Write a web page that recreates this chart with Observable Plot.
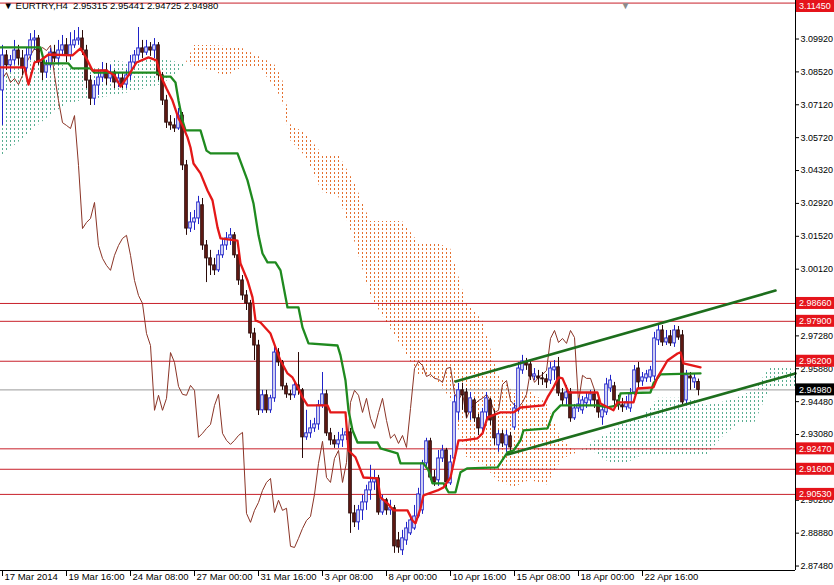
<!DOCTYPE html>
<html><head><meta charset="utf-8">
<script src="https://cdn.jsdelivr.net/npm/d3@7"></script>
<script src="https://cdn.jsdelivr.net/npm/@observablehq/plot@0.6"></script>
<style>body{margin:0;background:#fff;}svg{display:block}</style>
</head><body><div id="chart"></div>
<script>
const open=[3.0773,3.0922,3.0880,3.0901,3.0943,3.0909,3.0867,3.0922,3.0986,3.0994,
3.0892,3.0849,3.0880,3.0934,3.0909,3.0943,3.0965,3.0922,3.0965,3.0986,
3.0994,3.0943,3.0815,3.0738,3.0794,3.0828,3.0858,3.0824,3.0849,3.0807,
3.0824,3.0798,3.0837,3.0892,3.0922,3.0952,3.0934,3.0956,3.0943,3.0965,
3.0837,3.0730,3.0636,3.0624,3.0611,3.0666,3.0454,3.0185,3.0211,3.0228,
3.0284,3.0113,3.0058,3.0028,3.0007,3.0071,3.0113,3.0143,3.0156,3.0071,
2.9964,2.9900,2.9866,2.9738,2.9687,2.9411,2.9475,2.9411,2.9462,2.9657,
2.9615,2.9513,2.9479,2.9475,2.9517,2.9496,2.9296,2.9313,2.9334,2.9351,
2.9432,2.9479,2.9313,2.9283,2.9266,2.9283,2.9304,2.9317,2.8972,2.8934,
2.8985,2.9019,2.9070,2.9104,2.9121,2.8976,2.9028,2.8985,2.8994,2.8857,
2.8815,2.8857,2.8887,2.8908,2.8959,2.8985,2.9185,2.9279,2.9125,2.9113,
2.9206,2.9240,2.9100,2.9206,2.9402,2.9496,2.9487,2.9402,2.9453,2.9377,
2.9334,2.9402,2.9453,2.9389,2.9262,2.9309,2.9262,2.9300,2.9338,2.9411,
2.9581,2.9615,2.9606,2.9555,2.9555,2.9547,2.9543,2.9538,2.9581,2.9594,
2.9483,2.9462,2.9487,2.9377,2.9419,2.9411,2.9441,2.9453,2.9479,2.9453,
2.9381,2.9402,2.9504,2.9513,2.9453,2.9432,2.9424,2.9419,2.9487,2.9589,
2.9534,2.9547,2.9551,2.9555,2.9709,2.9751,2.9700,2.9726,2.9696,2.9751,
2.9730,2.9453,2.9555,2.9530,2.95315];
const high=[3.0965,3.0943,3.0922,3.0986,3.0965,3.0943,3.0952,3.1015,3.1028,3.1007,
3.0909,3.0901,3.0952,3.0965,3.0986,3.1007,3.0994,3.1019,3.1028,3.1041,
3.1028,3.0965,3.0837,3.0815,3.0858,3.0892,3.0888,3.0880,3.0858,3.0849,
3.0849,3.0858,3.0922,3.0943,3.1041,3.0986,3.0986,3.0977,3.0994,3.0977,
3.0849,3.0752,3.0666,3.0653,3.0696,3.0679,3.0475,3.0253,3.0262,3.0322,
3.0313,3.0134,3.0092,3.0058,3.0092,3.0143,3.0168,3.0185,3.0168,3.0083,
2.9985,2.9921,2.9879,2.9760,2.9709,2.9496,2.9496,2.9475,2.9687,2.9674,
2.9623,2.9526,2.9496,2.9538,2.9657,2.9504,2.9411,2.9368,2.9377,2.9453,
2.9572,2.9496,2.9334,2.9304,2.9317,2.9334,2.9347,2.9334,2.9006,2.9006,
2.9049,2.9092,2.9177,2.9155,2.9134,2.9049,2.9036,2.9028,2.9006,2.8891,
2.8900,2.8934,2.8964,2.9006,2.9079,2.9198,2.9292,2.9292,2.9155,2.9240,
2.9262,2.9249,2.9219,2.9475,2.9526,2.9526,2.9504,2.9487,2.9462,2.9394,
2.9419,2.9487,2.9462,2.9411,2.9326,2.9326,2.9326,2.9317,2.9441,2.9615,
2.9645,2.9632,2.9623,2.9589,2.9581,2.9572,2.9564,2.9615,2.9623,2.9636,
2.9504,2.9517,2.9504,2.9436,2.9462,2.9470,2.9483,2.9496,2.9496,2.9470,
2.9432,2.9547,2.9560,2.9530,2.9475,2.9462,2.9470,2.9504,2.9602,2.9615,
2.9572,2.9581,2.9598,2.9743,2.9781,2.9772,2.9751,2.9751,2.9772,2.9768,
2.9751,2.9581,2.9572,2.9564,2.95441];
const low=[3.0624,3.0858,3.0849,3.0880,3.0880,3.0837,3.0849,3.0901,3.0943,3.0880,
3.0815,3.0824,3.0867,3.0892,3.0880,3.0922,3.0892,3.0901,3.0952,3.0965,
3.0922,3.0781,3.0709,3.0709,3.0752,3.0807,3.0794,3.0807,3.0781,3.0785,
3.0781,3.0781,3.0815,3.0867,3.0901,3.0909,3.0922,3.0918,3.0909,3.0815,
3.0709,3.0611,3.0603,3.0594,3.0603,3.0432,3.0156,3.0168,3.0177,3.0202,
3.0092,2.9955,2.9985,2.9985,2.9998,3.0058,3.0092,3.0113,3.0058,2.9943,
2.9879,2.9836,2.9717,2.9623,2.9389,2.9398,2.9398,2.9398,2.9445,2.9598,
2.9496,2.9462,2.9453,2.9462,2.9475,2.9206,2.9283,2.9292,2.9317,2.9326,
2.9419,2.9300,2.9262,2.9249,2.9249,2.9253,2.9283,2.8887,2.8912,2.8900,
2.8942,2.8985,2.9028,2.9070,2.8964,2.8964,2.8964,2.8964,2.8802,2.8802,
2.8793,2.8836,2.8878,2.8900,2.8951,2.8968,2.9172,2.9113,2.9087,2.9087,
2.9189,2.9070,2.9091,2.9189,2.9368,2.9411,2.9377,2.9368,2.9360,2.9304,
2.9317,2.9368,2.9347,2.9262,2.9232,2.9253,2.9232,2.9232,2.9326,2.9402,
2.9564,2.9581,2.9538,2.9538,2.9517,2.9517,2.9504,2.9521,2.9538,2.9470,
2.9432,2.9432,2.9360,2.9368,2.9402,2.9394,2.9419,2.9432,2.9419,2.9377,
2.9347,2.9389,2.9487,2.9432,2.9411,2.9402,2.9411,2.9402,2.9475,2.9504,
2.9513,2.9530,2.9530,2.9538,2.9687,2.9683,2.9687,2.9683,2.9679,2.9709,
2.9432,2.9436,2.9496,2.9504,2.94725];
const close=[3.0922,3.0880,3.0901,3.0943,3.0909,3.0867,3.0922,3.0986,3.0994,3.0892,
3.0849,3.0880,3.0934,3.0909,3.0943,3.0965,3.0922,3.0965,3.0986,3.0994,
3.0943,3.0815,3.0738,3.0794,3.0828,3.0858,3.0824,3.0849,3.0807,3.0824,
3.0798,3.0837,3.0892,3.0922,3.0952,3.0934,3.0956,3.0943,3.0965,3.0837,
3.0730,3.0636,3.0624,3.0611,3.0666,3.0454,3.0185,3.0211,3.0228,3.0296,
3.0113,3.0058,3.0028,3.0007,3.0071,3.0113,3.0143,3.0156,3.0071,2.9964,
2.9900,2.9866,2.9738,2.9687,2.9411,2.9475,2.9411,2.9462,2.9657,2.9615,
2.9513,2.9479,2.9475,2.9517,2.9496,2.9296,2.9313,2.9334,2.9351,2.9432,
2.9479,2.9313,2.9283,2.9266,2.9283,2.9304,2.9317,2.8972,2.8934,2.8985,
2.9019,2.9070,2.9104,2.9121,2.8976,2.9028,2.8985,2.8994,2.8832,2.8827,
2.8866,2.8908,2.8942,2.8959,2.9053,2.9185,2.9279,2.9125,2.9104,2.9206,
2.9240,2.9104,2.9189,2.9445,2.9496,2.9475,2.9402,2.9462,2.9377,2.9334,
2.9402,2.9462,2.9368,2.9292,2.9309,2.9270,2.9304,2.9253,2.9419,2.9589,
2.9619,2.9602,2.9555,2.9564,2.9547,2.9543,2.9530,2.9589,2.9594,2.9483,
2.9453,2.9487,2.9377,2.9419,2.9436,2.9453,2.9462,2.9479,2.9453,2.9402,
2.9411,2.9521,2.9538,2.9453,2.9432,2.9424,2.9445,2.9479,2.9581,2.9530,
2.9551,2.9564,2.9581,2.9717,2.9751,2.9700,2.9717,2.9696,2.9751,2.9721,
2.9445,2.9560,2.9547,2.9547,2.94980];

// Ichimoku lines: [bar, price]
const tenkan=[[-0.5,3.0871],[5.5,3.0871],[6.5,3.0798],[8,3.0892],[9.5,3.0901],[11.5,3.0926],[17.5,3.0922],[19.5,3.0952],[21,3.0909],[22.5,3.0858],[26,3.0858],[28,3.0837],[29.5,3.0790],[31.5,3.0837],[33.5,3.0892],[36.5,3.0914],[38.5,3.0901],[39.5,3.0837],[41,3.0781],[42.5,3.0730],[44,3.0654],[45,3.0624],[46.25,3.0573],[47,3.0530],[47.75,3.0462],[49.5,3.0420],[51.25,3.0347],[52.5,3.0305],[53.75,3.0190],[54.5,3.0143],[58.75,3.0134],[59.5,3.0036],[61.25,2.9964],[62.5,2.9892],[63.25,2.9794],[64.5,2.9785],[67,2.9738],[68.25,2.9679],[69.5,2.9623],[71.25,2.9568],[72.5,2.9551],[74,2.9504],[75,2.9466],[76.25,2.9432],[81.25,2.9432],[82,2.9402],[85.75,2.9402],[86.5,2.9240],[88.25,2.9211],[90.25,2.9125],[93.75,2.9121],[94.5,2.9040],[96.25,2.9015],[97.75,2.8985],[101.25,2.8985],[102.5,2.8942],[103.25,2.8930],[104.5,2.8994],[105.25,2.9049],[108.75,2.9070],[110.25,2.9083],[112,2.9125],[114,2.9283],[115.25,2.9283],[118.75,2.9292],[120,2.9313],[121.25,2.9381],[124.5,2.9402],[127.75,2.9402],[129.5,2.9423],[135.25,2.9432],[136.25,2.9466],[137.75,2.9509],[139,2.9551],[140,2.9547],[141.5,2.9487],[148.75,2.9487],[149.5,2.9440],[152.75,2.9411],[153.75,2.9445],[157.75,2.9445],[158.75,2.9504],[162.75,2.9509],[163.75,2.9551],[165.25,2.9594],[166.25,2.9623],[168.75,2.9653],[169.5,2.9658],[170.25,2.9611],[174.5,2.9594]];
const kijun=[[-0.5,3.0956],[9.5,3.0956],[10.5,3.0888],[16.5,3.0888],[17.5,3.0867],[22,3.0867],[23,3.0849],[38.75,3.0849],[40,3.0832],[42,3.0832],[43.25,3.0807],[44,3.0730],[45,3.0645],[45.75,3.0603],[49.5,3.0603],[51,3.0517],[52,3.0505],[58.75,3.0505],[61.25,3.0390],[62.75,3.0292],[64,3.0156],[65,3.0079],[66.25,3.0041],[68.25,3.0041],[69.5,3.0007],[71.25,2.9849],[74,2.9849],[75,2.9764],[76.5,2.9696],[83.75,2.9687],[84.5,2.9645],[85.75,2.9538],[86.5,2.9411],[87.5,2.9326],[88.75,2.9274],[93.75,2.9274],[94.5,2.9249],[98.75,2.9228],[99.5,2.9185],[105.25,2.9185],[106.5,2.9155],[107.5,2.9100],[110.25,2.9100],[111.5,2.9062],[113.25,2.9062],[114.5,2.9147],[116.25,2.9164],[123.75,2.9168],[126.25,2.9232],[127.75,2.9240],[129.5,2.9283],[130.25,2.9326],[136.25,2.9334],[137.75,2.9402],[139.5,2.9432],[148.75,2.9432],[151.25,2.9424],[153.75,2.9432],[154.5,2.9483],[162,2.9487],[162.75,2.9526],[164.5,2.9564],[174.5,2.9568]];
// cloud: [bar, senkou A, senkou B]
const cloud=[[0,3.0837,3.0496],[4,3.0892,3.0551],[8,3.0901,3.0611],[12,3.0892,3.0666],[16,3.0875,3.0713],[20,3.0858,3.0730],[24,3.0867,3.0739],[28,3.0901,3.0752],[32,3.0888,3.0764],[36,3.0909,3.0781],[40,3.0905,3.0798],[44,3.0892,3.0849],[46,3.0892,3.0892],[48,3.0875,3.0964],[52,3.0858,3.0964],[56,3.0832,3.0960],[60,3.0871,3.0952],[64,3.0875,3.0918],[68,3.0790,3.0884],[70,3.0730,3.0824],[72,3.0560,3.0628],[76,3.0488,3.0586],[80,3.0339,3.0500],[84,3.0322,3.0500],[88,3.0134,3.0381],[92,2.9900,3.0215],[96,2.9785,3.0215],[100,2.9679,3.0215],[104,2.9564,3.0126],[108,2.9547,3.0126],[112,2.9462,3.0100],[116,2.9211,2.9870],[120,2.9181,2.9794],[124,2.9108,2.9560],[128,2.9083,2.9483],[132,2.9113,2.9492],[136,2.9091,2.9440],[140,2.9202,2.9279],[144,2.9232,2.9232],[148,2.9279,2.9232],[152,2.9317,2.9185],[156,2.9368,2.9185],[160,2.9385,2.9219],[164,2.9462,2.9219],[168,2.9462,2.9219],[172,2.9462,2.9219],[176,2.9432,2.9219],[180,2.9445,2.9296],[184,2.9466,2.9355],[188,2.9496,2.9355],[192,2.9594,2.9504],[196,2.9594,2.9504],[198.25,2.9581,2.9504]];
const trendUpper=[[113.25,2.9534],[193.25,2.9921]];
const trendLower=[[126.25,2.9223],[198.25,2.9568]];
const levels=[3.1145,2.9866,2.9790,2.9620,2.9247,2.9160,2.9053];
const lastPrice=2.9498;
const priceTicks=[3.0992,3.0852,3.0712,3.0572,3.0432,3.0292,3.0152,3.0012,2.9728,2.9588,2.9448,2.9308,2.9028,2.8888,2.8748];
const timeTickBars=[0,16,32,48,64,80,96,112,128,144,160];
const timeTickLabels=["17 Mar 2014","19 Mar 16:00","24 Mar 08:00","27 Mar 00:00","31 Mar 16:00","3 Apr 08:00","8 Apr 00:00","10 Apr 16:00","15 Apr 08:00","18 Apr 00:00","22 Apr 16:00"];
const title="\u25BC EURTRY,H4\u00a0\u00a02.95315 2.95441 2.94725 2.94980";

const candles=close.map((c,i)=>({i,o:open[i],h:high[i],l:low[i],c,up:c>=open[i]}));
const up=candles.filter(d=>d.up), down=candles.filter(d=>!d.up);
const cloudRows=[];
cloud.forEach(([b,a,s])=>{
  if(b<=46) cloudRows.push({b,a,s,seg:"t1"});
  if(b>=46&&b<=144) cloudRows.push({b,a,s,seg:"o"});
  if(b>=144) cloudRows.push({b,a,s,seg:"t2"});
});
const BULL="#1f22c8", BEARF="#6b1d16", BEARS="#2a0a08";
const XMAX=198.25, YMIN=2.8729, YMAX=3.1156;
const FONT="'Liberation Sans', Arial, sans-serif";

const chart=Plot.plot({
  width:834,height:585,marginLeft:0,marginRight:39,marginTop:0,marginBottom:15,
  style:{fontFamily:FONT,fontSize:"9px",background:"#fff",color:"#000"},
  x:{domain:[-0.5,XMAX],axis:"bottom",ticks:timeTickBars,tickFormat:()=>"",tickSize:6,label:null},
  y:{domain:[YMIN,YMAX],axis:"right",ticks:priceTicks,tickFormat:d3.format(".5f"),tickSize:3,tickPadding:2,label:null},
  marks:[
    Plot.area(cloudRows.filter(d=>d.seg==="o"),{x1:"b",y1:"a",y2:"s",fill:"#ff00fe",curve:"linear"}),
    Plot.area(cloudRows.filter(d=>d.seg!=="o"),{x1:"b",y1:"a",y2:"s",z:"seg",fill:"#00fffe",curve:"linear"}),
    Plot.ruleY(levels,{stroke:"#c8202a",strokeWidth:1}),
    Plot.ruleY([lastPrice],{stroke:"#9a9a9a",strokeWidth:1}),
    Plot.line(candles.filter(d=>d.i>=26),{x:d=>d.i-26,y:"c",stroke:"#8a3426",strokeWidth:1}),
    Plot.ruleX(up,{x:"i",y1:"l",y2:"h",stroke:BULL,strokeWidth:1}),
    Plot.ruleX(down,{x:"i",y1:"l",y2:"h",stroke:BEARS,strokeWidth:1}),
    Plot.rect(up,{x1:d=>d.i-0.32,x2:d=>d.i+0.32,y1:"o",y2:"c",fill:"#fff",stroke:BULL,strokeWidth:1}),
    Plot.rect(down,{x1:d=>d.i-0.32,x2:d=>d.i+0.32,y1:"o",y2:"c",fill:BEARF,stroke:BEARS,strokeWidth:1}),
    Plot.line(kijun,{x:d=>d[0],y:d=>d[1],stroke:"#1f8a1f",strokeWidth:2.3}),
    Plot.line(tenkan,{x:d=>d[0],y:d=>d[1],stroke:"#e41818",strokeWidth:2.3}),
    Plot.line(trendUpper,{x:d=>d[0],y:d=>d[1],stroke:"#1d6e1d",strokeWidth:2.6}),
    Plot.line(trendLower,{x:d=>d[0],y:d=>d[1],stroke:"#1d6e1d",strokeWidth:2.6}),
    Plot.ruleX([XMAX],{stroke:"#000",strokeWidth:1}),
    Plot.ruleY([YMIN],{stroke:"#000",strokeWidth:1}),
    Plot.text(timeTickBars,{x:d=>d,text:(d,i)=>timeTickLabels[i],frameAnchor:"bottom",textAnchor:"start",dx:2,dy:9,fontSize:9.5,fill:"#000"}),
    Plot.text([title],{frameAnchor:"top-left",dx:3,dy:2,fontSize:9.5,fill:"#000"}),
    Plot.text(["\u25BC"],{x:[155.75],frameAnchor:"top",dy:1,fontSize:10,fill:"#8c8c8c"})
  ]
});
document.getElementById("chart").appendChild(chart);

// dotted cloud patterns
const sv=d3.select(chart);
const defs=sv.insert("defs",":first-child");
function pat(id,col){
  const p=defs.append("pattern").attr("id",id).attr("patternUnits","userSpaceOnUse").attr("width",4).attr("height",4);
  p.append("rect").attr("x",2).attr("y",0).attr("width",1).attr("height",2).attr("fill",col);
}
pat("dotO","#e4702f"); pat("dotT","#5aae92");
chart.querySelectorAll('[fill="#ff00fe"]').forEach(e=>e.setAttribute("fill","url(#dotO)"));
chart.querySelectorAll('[fill="#00fffe"]').forEach(e=>e.setAttribute("fill","url(#dotT)"));

// price labels on the right axis
const sy=chart.scale("y");
const g=sv.append("g").attr("font-family",FONT).attr("font-size",9).attr("text-anchor","start");
function box(v,col){
  const y=sy.apply(v), top=Math.max(0,y-6);
  g.append("rect").attr("x",796).attr("y",top).attr("width",38).attr("height",12).attr("fill",col);
  g.append("text").attr("x",799).attr("y",top+9.2).attr("text-anchor","start").attr("fill","#fff").text(d3.format(".5f")(v));
}
levels.forEach(v=>box(v,"#e5141b"));
box(lastPrice,"#000");
</script></body></html>
